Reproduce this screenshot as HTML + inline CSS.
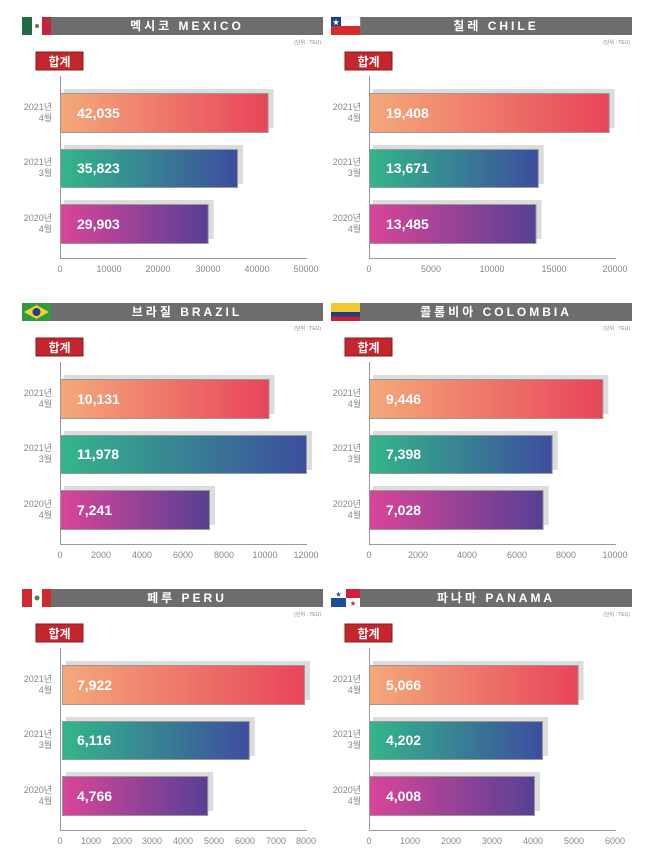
<!DOCTYPE html>
<html><head><meta charset="utf-8"><style>
body{margin:0;background:#fff}
svg{display:block}
text{font-family:"Liberation Sans","Noto Sans CJK KR",sans-serif}
.hd{fill:#fff;font-size:12px;font-weight:bold;letter-spacing:3px}
.u{fill:#888;font-size:5px}
.bd{fill:#fff;font-size:12px;font-weight:bold}
.yl{fill:#888;font-size:9px}
.tk{fill:#888;font-size:9px}
.v{fill:#fff;font-size:14px;font-weight:bold}
.sh{fill:#dcdcdc}
.ax{stroke:#999;stroke-width:1}
</style></head><body>
<svg width="651" height="866" viewBox="0 0 651 866" xmlns="http://www.w3.org/2000/svg">
<defs>
<linearGradient id="g1"><stop offset="0" stop-color="#f4a97a"/><stop offset="1" stop-color="#e8455a"/></linearGradient>
<linearGradient id="g2"><stop offset="0" stop-color="#33b68a"/><stop offset="1" stop-color="#3d4d9e"/></linearGradient>
<linearGradient id="g3"><stop offset="0" stop-color="#da4599"/><stop offset="1" stop-color="#573f94"/></linearGradient>
<g id="common">
<rect x="51" y="17" width="272" height="18" fill="#6d6d6d"/>
<text x="321" y="44" text-anchor="end" class="u">(단위 : TEU)</text>
<rect x="36" y="52" width="47" height="18" fill="#c3262d" stroke="#8a1a1e" stroke-width="1"/>
<text x="59.5" y="66" text-anchor="middle" class="bd">합계</text>
<line x1="60.5" y1="76" x2="60.5" y2="258" class="ax"/>
<line x1="60" y1="258.5" x2="307" y2="258.5" class="ax"/>
<text x="52" y="110" text-anchor="end" class="yl">2021년</text><text x="52" y="121" text-anchor="end" class="yl">4월</text>
<text x="52" y="165" text-anchor="end" class="yl">2021년</text><text x="52" y="176" text-anchor="end" class="yl">3월</text>
<text x="52" y="221" text-anchor="end" class="yl">2020년</text><text x="52" y="232" text-anchor="end" class="yl">4월</text>
</g>
</defs>

<!-- MEXICO -->
<g>
<use href="#common"/>
<rect x="22" y="17" width="10" height="18" fill="#1e6b45"/><rect x="32" y="17" width="10" height="18" fill="#fff"/><rect x="42" y="17" width="9" height="18" fill="#c3263a"/><circle cx="37" cy="26" r="2" fill="#8a6a2a"/>
<text x="187" y="30" text-anchor="middle" class="hd">멕시코 MEXICO</text>
<rect x="64" y="89" width="209.6" height="39" class="sh"/><rect x="60.5" y="93.5" width="207.6" height="39" fill="url(#g1)" stroke="#999"/>
<rect x="64" y="145" width="179" height="39" class="sh"/><rect x="60.5" y="149.5" width="177" height="38" fill="url(#g2)" stroke="#999"/>
<rect x="64" y="200" width="149.7" height="39" class="sh"/><rect x="60.5" y="204.5" width="147.7" height="39" fill="url(#g3)" stroke="#999"/>
<text x="77" y="118" class="v">42,035</text><text x="77" y="173" class="v">35,823</text><text x="77" y="229" class="v">29,903</text>
<g class="tk" text-anchor="middle"><text x="60" y="272">0</text><text x="109" y="272">10000</text><text x="158" y="272">20000</text><text x="208" y="272">30000</text><text x="257" y="272">40000</text><text x="306" y="272">50000</text></g>
</g>

<!-- CHILE -->
<g transform="translate(309,0)">
<use href="#common"/>
<rect x="22" y="17" width="29" height="9" fill="#fff" stroke="#ddd" stroke-width="0.5"/><rect x="22" y="26" width="29" height="9" fill="#d52b2b"/><rect x="22" y="17" width="10" height="9" fill="#1f3d8f"/><text x="27" y="24.5" text-anchor="middle" fill="#fff" font-size="7">★</text>
<text x="187" y="30" text-anchor="middle" class="hd">칠레 CHILE</text>
<rect x="64" y="89" width="241.7" height="39" class="sh"/><rect x="60.5" y="93.5" width="239.7" height="39" fill="url(#g1)" stroke="#999"/>
<rect x="64" y="145" width="170.8" height="39" class="sh"/><rect x="60.5" y="149.5" width="168.8" height="38" fill="url(#g2)" stroke="#999"/>
<rect x="64" y="200" width="168.5" height="39" class="sh"/><rect x="60.5" y="204.5" width="166.5" height="39" fill="url(#g3)" stroke="#999"/>
<text x="77" y="118" class="v">19,408</text><text x="77" y="173" class="v">13,671</text><text x="77" y="229" class="v">13,485</text>
<g class="tk" text-anchor="middle"><text x="60" y="272">0</text><text x="122" y="272">5000</text><text x="183" y="272">10000</text><text x="245" y="272">15000</text><text x="306" y="272">20000</text></g>
</g>

<!-- BRAZIL -->
<g transform="translate(0,286)">
<use href="#common"/>
<rect x="22" y="17" width="29" height="18" fill="#2f9a3e"/><polygon points="24,26 36.5,19 49,26 36.5,33" fill="#f2d22e"/><circle cx="36.5" cy="26" r="4" fill="#243c8a"/>
<text x="187" y="30" text-anchor="middle" class="hd">브라질 BRAZIL</text>
<rect x="64" y="89" width="210.5" height="39" class="sh"/><rect x="60.5" y="93.5" width="208.5" height="39" fill="url(#g1)" stroke="#999"/>
<rect x="64" y="145" width="248" height="39" class="sh"/><rect x="60.5" y="149.5" width="246" height="38" fill="url(#g2)" stroke="#999"/>
<rect x="64" y="200" width="151" height="39" class="sh"/><rect x="60.5" y="204.5" width="149" height="39" fill="url(#g3)" stroke="#999"/>
<text x="77" y="118" class="v">10,131</text><text x="77" y="173" class="v">11,978</text><text x="77" y="229" class="v">7,241</text>
<g class="tk" text-anchor="middle"><text x="60" y="272">0</text><text x="101" y="272">2000</text><text x="142" y="272">4000</text><text x="183" y="272">6000</text><text x="224" y="272">8000</text><text x="265" y="272">10000</text><text x="306" y="272">12000</text></g>
</g>

<!-- COLOMBIA -->
<g transform="translate(309,286)">
<use href="#common"/>
<rect x="22" y="17" width="29" height="9" fill="#f0c92f"/><rect x="22" y="26" width="29" height="4.5" fill="#223b8c"/><rect x="22" y="30.5" width="29" height="4.5" fill="#c4232f"/>
<text x="187" y="30" text-anchor="middle" class="hd">콜롬비아 COLOMBIA</text>
<rect x="64" y="89" width="235.3" height="39" class="sh"/><rect x="60.5" y="93.5" width="233.3" height="39" fill="url(#g1)" stroke="#999"/>
<rect x="64" y="145" width="184.7" height="39" class="sh"/><rect x="60.5" y="149.5" width="182.7" height="38" fill="url(#g2)" stroke="#999"/>
<rect x="64" y="200" width="175.6" height="39" class="sh"/><rect x="60.5" y="204.5" width="173.6" height="39" fill="url(#g3)" stroke="#999"/>
<text x="77" y="118" class="v">9,446</text><text x="77" y="173" class="v">7,398</text><text x="77" y="229" class="v">7,028</text>
<g class="tk" text-anchor="middle"><text x="60" y="272">0</text><text x="109" y="272">2000</text><text x="158" y="272">4000</text><text x="208" y="272">6000</text><text x="257" y="272">8000</text><text x="306" y="272">10000</text></g>
</g>

<!-- PERU -->
<g transform="translate(0,572)">
<use href="#common"/>
<rect x="22" y="17" width="10" height="18" fill="#d02a2f"/><rect x="32" y="17" width="10" height="18" fill="#fff"/><rect x="42" y="17" width="9" height="18" fill="#d02a2f"/><circle cx="37" cy="26" r="2.5" fill="#4a8a3a"/>
<text x="187" y="30" text-anchor="middle" class="hd">페루 PERU</text>
<rect x="66" y="89" width="244" height="39" class="sh"/><rect x="62.5" y="93.5" width="242" height="39" fill="url(#g1)" stroke="#999"/>
<rect x="66" y="145" width="188.8" height="39" class="sh"/><rect x="62.5" y="149.5" width="186.8" height="38" fill="url(#g2)" stroke="#999"/>
<rect x="66" y="200" width="147.2" height="39" class="sh"/><rect x="62.5" y="204.5" width="145.2" height="39" fill="url(#g3)" stroke="#999"/>
<text x="77" y="118" class="v">7,922</text><text x="77" y="173" class="v">6,116</text><text x="77" y="229" class="v">4,766</text>
<g class="tk" text-anchor="middle"><text x="60" y="272">0</text><text x="91" y="272">1000</text><text x="122" y="272">2000</text><text x="152" y="272">3000</text><text x="183" y="272">4000</text><text x="214" y="272">5000</text><text x="245" y="272">6000</text><text x="276" y="272">7000</text><text x="306" y="272">8000</text></g>
</g>

<!-- PANAMA -->
<g transform="translate(309,572)">
<use href="#common"/>
<rect x="22" y="17" width="29" height="18" fill="#fff"/><rect x="37" y="17" width="14" height="9" fill="#d21f3c"/><rect x="22" y="26" width="15" height="9" fill="#1f4d96"/><text x="29.5" y="24.5" text-anchor="middle" fill="#1f4d96" font-size="6">★</text><text x="44" y="33.5" text-anchor="middle" fill="#d21f3c" font-size="6">★</text>
<text x="187" y="30" text-anchor="middle" class="hd">파나마 PANAMA</text>
<rect x="64" y="89" width="210.6" height="39" class="sh"/><rect x="60.5" y="93.5" width="208.6" height="39" fill="url(#g1)" stroke="#999"/>
<rect x="64" y="145" width="175" height="39" class="sh"/><rect x="60.5" y="149.5" width="173" height="38" fill="url(#g2)" stroke="#999"/>
<rect x="64" y="200" width="167" height="39" class="sh"/><rect x="60.5" y="204.5" width="165" height="39" fill="url(#g3)" stroke="#999"/>
<text x="77" y="118" class="v">5,066</text><text x="77" y="173" class="v">4,202</text><text x="77" y="229" class="v">4,008</text>
<g class="tk" text-anchor="middle"><text x="60" y="272">0</text><text x="101" y="272">1000</text><text x="142" y="272">2000</text><text x="183" y="272">3000</text><text x="224" y="272">4000</text><text x="265" y="272">5000</text><text x="306" y="272">6000</text></g>
</g>
</svg>
</body></html>
